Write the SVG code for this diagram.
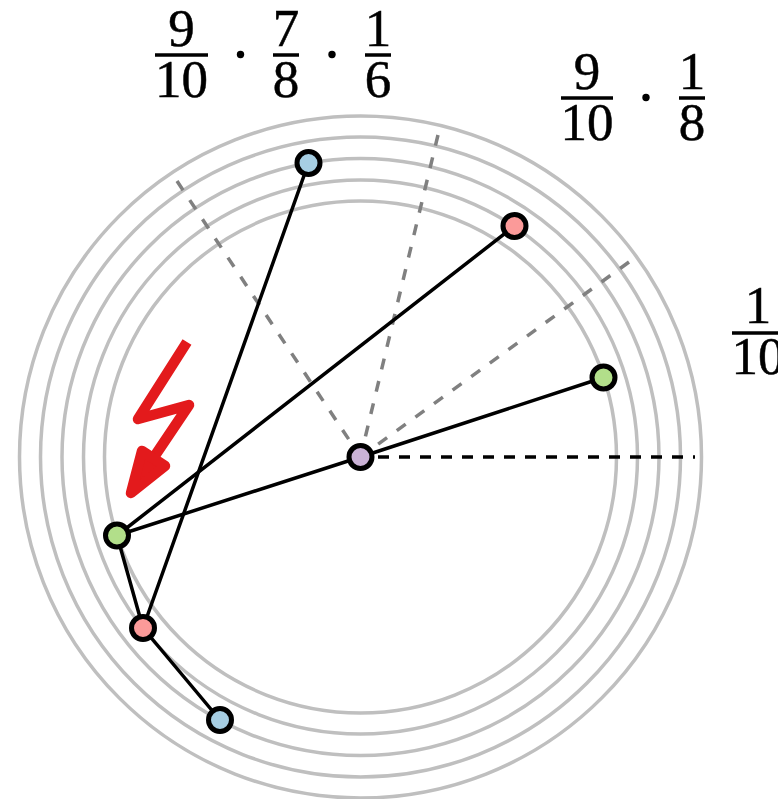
<svg xmlns="http://www.w3.org/2000/svg" width="778" height="799" viewBox="0 0 778 799">
<style>
.ring{fill:none;stroke:#bfbfbf;stroke-width:3.5}
.edge{fill:none;stroke:#000;stroke-width:3.5;stroke-linecap:round}
.gray{fill:none;stroke:#808080;stroke-width:3.5;stroke-dasharray:11 12}
.black{fill:none;stroke:#000;stroke-width:3.5;stroke-dasharray:11 10}
.node{stroke:#000;stroke-width:5}
.blue{fill:#a6cee3}.red{fill:#fb9a99}.green{fill:#b2df8a}.purple{fill:#cab2d6}
.t{font-family:"Liberation Serif","DejaVu Serif",serif;font-size:53px;text-anchor:middle;fill:#000;stroke:#000;stroke-width:.5}
.bar{stroke:#000;stroke-width:3.5}
.dot{fill:#000}
</style>
<g id="rings">
<circle class="ring" cx="360.5" cy="457" r="256"/>
<circle class="ring" cx="360.5" cy="457" r="277"/>
<circle class="ring" cx="360.5" cy="457" r="298.5"/>
<circle class="ring" cx="360.5" cy="457" r="320"/>
<circle class="ring" cx="360.5" cy="457" r="341"/>
</g>
<g id="connectors">
<line class="gray" x1="177" y1="181" x2="360.5" y2="457"/>
<line class="gray" x1="438" y1="135" x2="360.5" y2="457"/>
<line class="gray" x1="629" y1="262" x2="360.5" y2="457"/>
<line class="black" x1="378" y1="457" x2="695" y2="457"/>
<line class="edge" x1="360.5" y1="457" x2="603.5" y2="377.5"/>
<line class="edge" x1="360.5" y1="457" x2="117" y2="535.5"/>
<line class="edge" x1="117" y1="535.5" x2="514.5" y2="226"/>
<line class="edge" x1="117" y1="535.5" x2="143" y2="628"/>
<line class="edge" x1="143" y1="628" x2="308.5" y2="163"/>
<line class="edge" x1="143" y1="628" x2="220" y2="720"/>
</g>
<g id="bolt">
<polyline points="187,342 138,419 189,405 150,463" fill="none" stroke="#e31a1c" stroke-width="10.5" stroke-linejoin="round"/>
<polygon points="142,451 131,493 165,466" fill="#e31a1c" stroke="#e31a1c" stroke-width="10.5" stroke-linejoin="round"/>
</g>
<g id="node-top-blue"><circle class="node blue" cx="308.5" cy="163" r="11.5"/></g>
<g id="node-top-red"><circle class="node red" cx="514.5" cy="226" r="11.5"/></g>
<g id="node-right-green"><circle class="node green" cx="603.5" cy="377.5" r="11.5"/></g>
<g id="node-center"><circle class="node purple" cx="360.5" cy="457" r="11.5"/></g>
<g id="node-left-green"><circle class="node green" cx="117" cy="535.5" r="11.5"/></g>
<g id="node-left-red"><circle class="node red" cx="143" cy="628" r="11.5"/></g>
<g id="node-bottom-blue"><circle class="node blue" cx="220" cy="720" r="11.5"/></g>
<g id="label-top">
<text class="t" x="181.5" y="46">9</text><line class="bar" x1="155" y1="55" x2="208" y2="55"/><text class="t" x="181.5" y="97">10</text>
<circle class="dot" cx="240.5" cy="54.5" r="3.7"/>
<text class="t" x="286" y="46">7</text><line class="bar" x1="273" y1="55" x2="299" y2="55"/><text class="t" x="286" y="97">8</text>
<circle class="dot" cx="332" cy="54.5" r="3.7"/>
<text class="t" x="378" y="46">1</text><line class="bar" x1="365" y1="55" x2="391" y2="55"/><text class="t" x="378" y="97">6</text>
</g>
<g id="label-mid">
<text class="t" x="587" y="89">9</text><line class="bar" x1="561" y1="98" x2="613" y2="98"/><text class="t" x="587" y="140">10</text>
<circle class="dot" cx="646" cy="97.5" r="3.7"/>
<text class="t" x="692" y="89">1</text><line class="bar" x1="679" y1="98" x2="705" y2="98"/><text class="t" x="692" y="140">8</text>
</g>
<g id="label-right">
<text class="t" x="758" y="323">1</text><line class="bar" x1="732" y1="333" x2="784" y2="333"/><text class="t" x="758" y="374">10</text>
</g>
</svg>
